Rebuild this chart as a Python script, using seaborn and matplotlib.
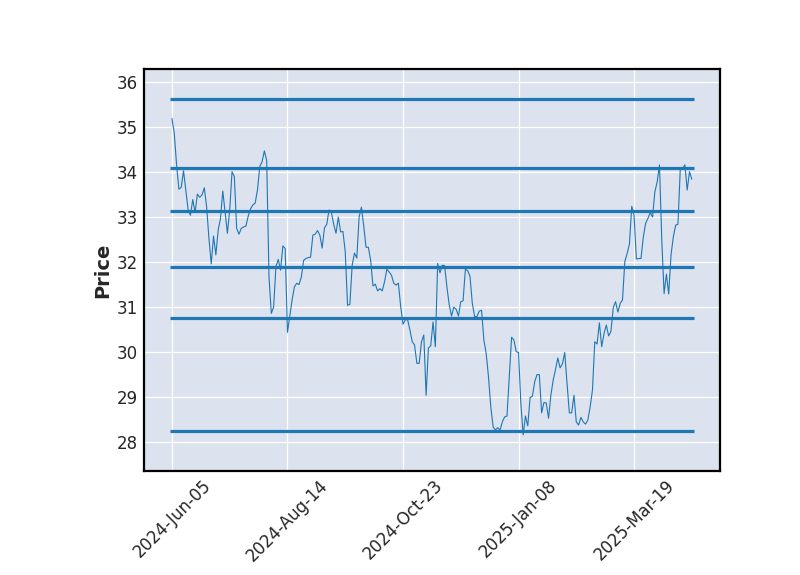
import matplotlib
matplotlib.use("Agg")
import matplotlib.pyplot as plt
import seaborn as sns
import numpy as np
import pandas as pd

# ---- data ----
prices = [
    35.19, 34.86, 34.16, 33.62, 33.66, 34.03, 33.60, 33.16, 33.04, 33.39,
    33.10, 33.51, 33.44, 33.49, 33.65, 33.23, 32.53, 31.96, 32.58, 32.16,
    32.71, 32.97, 33.58, 33.12, 32.64, 33.16, 34.01, 33.90, 32.75, 32.62,
    32.75, 32.78, 32.80, 33.02, 33.18, 33.27, 33.31, 33.60, 34.12, 34.23,
    34.47, 34.26, 31.67, 30.86, 31.00, 31.90, 32.06, 31.82, 32.36, 32.30,
    30.44, 30.80, 31.16, 31.45, 31.53, 31.50, 31.67, 32.04, 32.08, 32.10,
    32.11, 32.60, 32.62, 32.70, 32.60, 32.31, 32.76, 32.84, 33.16, 33.10,
    32.84, 32.64, 33.00, 32.67, 32.68, 32.23, 31.04, 31.06, 31.93, 32.20,
    32.09, 33.00, 33.22, 32.80, 32.33, 32.33, 32.04, 31.47, 31.51, 31.36,
    31.41, 31.36, 31.56, 31.84, 31.78, 31.71, 31.53, 31.49, 31.53, 31.01,
    30.62, 30.72, 30.72, 30.49, 30.23, 30.16, 29.75, 29.75, 30.23, 30.38,
    29.04, 30.09, 30.14, 30.67, 30.12, 31.97, 31.76, 31.93, 31.92, 31.45,
    31.05, 30.80, 31.00, 30.95, 30.80, 31.12, 31.14, 31.84, 31.81, 31.68,
    31.08, 30.79, 30.79, 30.91, 30.93, 30.27, 29.97, 29.45, 28.78, 28.34,
    28.27, 28.32, 28.27, 28.45, 28.56, 28.58, 29.45, 30.33, 30.27, 30.01,
    29.99, 28.86, 28.16, 28.58, 28.36, 28.99, 29.02, 29.34, 29.50, 29.50,
    28.65, 28.88, 28.87, 28.53, 29.04, 29.38, 29.61, 29.87, 29.65, 29.74,
    29.99, 29.30, 28.65, 28.65, 29.04, 28.45, 28.38, 28.55, 28.45, 28.40,
    28.49, 28.78, 29.16, 30.23, 30.18, 30.65, 30.12, 30.41, 30.60, 30.36,
    30.46, 30.99, 31.12, 30.89, 31.08, 31.16, 32.01, 32.19, 32.40, 33.24,
    33.04, 32.07, 32.08, 32.08, 32.55, 32.86, 32.97, 33.10, 33.00, 33.56,
    33.78, 34.16, 32.49, 31.30, 31.73, 31.29, 32.16, 32.56, 32.82, 32.84,
    34.06, 34.08, 34.16, 33.60, 34.01, 33.84,
]
hline_levels = [35.62, 34.10, 33.13, 31.88, 30.75, 28.24]
tick_positions = [0, 50, 100, 150, 200]
tick_labels = ["2024-Jun-05", "2024-Aug-14", "2024-Oct-23", "2025-Jan-08", "2025-Mar-19"]
y_ticks = [28, 29, 30, 31, 32, 33, 34, 35, 36]

df = pd.DataFrame({"idx": np.arange(len(prices)), "Price": prices})

sns.set_theme(style="darkgrid", rc={
    "axes.facecolor": "#DCE2EE",
    "axes.edgecolor": "black",
    "axes.linewidth": 1.6,
    "grid.color": "white",
    "grid.linewidth": 0.9,
})
plt.rcParams["font.family"] = ["DejaVu Sans"]

fig = plt.figure(figsize=(8, 5.75), dpi=100)
ax = fig.add_axes([0.18, 0.181, 0.72, 0.699])

sns.lineplot(data=df, x="idx", y="Price", ax=ax, color="#1f77b4", linewidth=0.8)
ax.hlines(hline_levels, xmin=-1, xmax=len(prices), colors="#1f77b4", linewidth=2.3)

ax.set_xlim(-12.1, 237.2)
ax.set_ylim(27.36, 36.29)
ax.set_yticks(y_ticks)
ax.set_yticklabels([str(v) for v in y_ticks], fontsize=12)
ax.set_xticks(tick_positions)
ax.set_xticklabels(tick_labels, rotation=45, ha="center", fontsize=12)
ax.tick_params(axis="y", length=0, pad=4.5)
ax.tick_params(axis="x", length=0, pad=4)
ax.set_xlabel("")
ax.set_ylabel("Price", fontsize=14, fontweight="bold", labelpad=3)
for s in ax.spines.values():
    s.set_visible(True)
    s.set_color("black")
    s.set_linewidth(1.6)

fig.savefig("out.png", dpi=100)
